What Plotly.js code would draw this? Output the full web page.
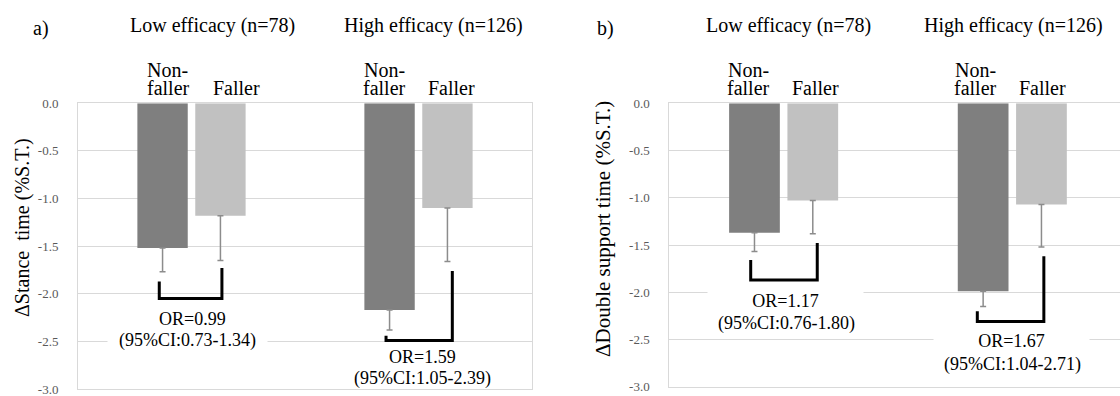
<!DOCTYPE html>
<html>
<head>
<meta charset="utf-8">
<script src="https://cdn.plot.ly/plotly-3.0.1.min.js"></script>
<style>html,body{margin:0;padding:0;background:#fff;}#chart{width:1120px;height:396px;}</style>
</head>
<body>
<div id="chart"></div>
<script>
// ---- data ----
const groups = ['Low efficacy (n=78)', 'High efficacy (n=126)'];
const groupIdx = [0, 1];
const stanceNonFaller = [-1.52, -2.17];
const stanceNonFallerSE = [0.25, 0.21];
const stanceFaller = [-1.18, -1.10];
const stanceFallerSE = [0.47, 0.56];
const dstNonFaller = [-1.37, -1.99];
const dstNonFallerSE = [0.20, 0.16];
const dstFaller = [-1.03, -1.07];
const dstFallerSE = [0.35, 0.45];
const orA = ['OR=0.99', 'OR=1.59'];
const ciA = ['(95%CI:0.73-1.34)', '(95%CI:1.05-2.39)'];
const orB = ['OR=1.17', 'OR=1.67'];
const ciB = ['(95%CI:0.76-1.80)', '(95%CI:1.04-2.71)'];
const yTicks = [0, -0.5, -1, -1.5, -2, -2.5, -3];
const yTickText = ['0.0', '-0.5', '-1.0', '-1.5', '-2.0', '-2.5', '-3.0'];

const DARK = '#7f7f7f', LIGHT = '#c1c1c1', ERR = '#8c8c8c', GRID = '#d9d9d9';
const FONT = '"Liberation Serif", "Times New Roman", Tinos, "DejaVu Serif", serif';

function bar(y, se, color, xa, ya) {
  return {
    type: 'bar', x: groupIdx, y: y, xaxis: xa, yaxis: ya,
    marker: {color: color, line: {width: 0}},
    error_y: {type: 'data', symmetric: false, array: y.map(() => 0), arrayminus: se,
              color: ERR, thickness: 1.5, width: 3},
    hoverinfo: 'skip'
  };
}

const data = [
  bar(stanceNonFaller, stanceNonFallerSE, DARK, 'x', 'y'),
  bar(stanceFaller, stanceFallerSE, LIGHT, 'x', 'y'),
  bar(dstNonFaller, dstNonFallerSE, DARK, 'x2', 'y2'),
  bar(dstFaller, dstFallerSE, LIGHT, 'x2', 'y2')
];

function yax(domain, mirror) {
  return {
    domain: domain, range: [-3, 0], tickvals: yTicks, ticktext: yTickText,
    showgrid: true, gridcolor: GRID, gridwidth: 1, zeroline: false,
    showline: true, linecolor: GRID, linewidth: 1, mirror: mirror,
    ticks: '', ticklabelstandoff: 16, ticklabeloverflow: 'allow',
    tickfont: {family: FONT, size: 13, color: '#595959'}, fixedrange: true
  };
}
function xax(domain, range, anchor) {
  return {
    domain: domain, range: range, anchor: anchor, showticklabels: false, ticks: '',
    showgrid: false, zeroline: false, showline: true, linecolor: GRID, linewidth: 1,
    mirror: true, fixedrange: true
  };
}

const W = 1120, H = 396;
const px = v => v / W, py = v => 1 - v / H;

// bracket geometry (layout decorations)
const brackets = [
  {xr: 'x', yr: 'y', lx: -0.142, ly: -1.87, rx: 0.134, ry: -1.73, by: -2.05},
  {xr: 'x', yr: 'y', lx: 0.857, ly: -2.44, rx: 1.149, ry: -1.76, by: -2.49},
  {xr: 'x2', yr: 'y2', lx: -0.144, ly: -1.66, rx: 0.147, ry: -1.48, by: -1.87},
  {xr: 'x2', yr: 'y2', lx: 0.847, ly: -2.20, rx: 1.138, ry: -1.62, by: -2.31}
];
const shapes = brackets.map(b => ({
  type: 'path', xref: b.xr, yref: b.yr,
  path: `M ${b.lx},${b.ly} L ${b.lx},${b.by} L ${b.rx},${b.by} L ${b.rx},${b.ry}`,
  line: {color: '#000', width: 3}
}));

function ann(text, x, y, size, extra) {
  return Object.assign({text: text, x: px(x), y: py(y), xref: 'paper', yref: 'paper',
    showarrow: false, font: {family: FONT, size: size, color: '#000'},
    xanchor: 'center', yanchor: 'middle'}, extra || {});
}
function boxed(text, x, y, bx, bw) {
  // text centred at x; white box centred at bx with width bw
  return ann(text, bx, y, 18, {width: bw, align: 'center', bgcolor: '#fff', borderpad: 3,
    xshift: 0});
}

const annotations = [
  ann('a)', 41, 28, 20),
  ann('b)', 605, 28, 20),
  ann(groups[0], 212, 25, 20),
  ann(groups[1], 433, 25, 20),
  ann(groups[0], 788, 25, 20),
  ann(groups[1], 1013, 25, 20),
  // header labels (two separate lines, tight spacing)
  ann('Non-', 167, 70, 20), ann('faller', 168, 88, 20), ann('Faller', 236, 88, 20),
  ann('Non-', 384, 70, 20), ann('faller', 384, 88, 20), ann('Faller', 451, 88, 20),
  ann('Non-', 748, 70, 20), ann('faller', 748, 88, 20), ann('Faller', 815, 88, 20),
  ann('Non-', 975, 70, 20), ann('faller', 975, 88, 20), ann('Faller', 1042, 88, 20),
  ann('\u0394Stance\u00a0 time (%S.T.)', 22, 228, 20, {textangle: -90}),
  ann('\u0394Double support time (%S.T.)', 603, 229, 21, {textangle: -90}),
  // odds ratios
  ann(orA[0], 192, 319, 18),
  boxed(ciA[0], 192, 340, 188, 153),
  ann(orA[1], 422, 357, 18),
  ann(ciA[1], 422, 378, 18),
  boxed(orB[0], 786, 301, 785, 149),
  ann(ciB[0], 786, 323, 18),
  boxed(orB[1], 1012, 341, 1011, 149),
  ann(ciB[1], 1012, 364, 18)
];

const layout = {
  width: W, height: H, margin: {l: 0, r: 0, t: 0, b: 0},
  paper_bgcolor: '#fff', plot_bgcolor: '#fff', showlegend: false,
  barmode: 'group', bargap: 0.49, bargroupgap: 0.13,
  font: {family: FONT},
  xaxis: xax([px(78), px(532)], [-0.5, 1.5], 'y'),
  yaxis: Object.assign(yax([py(389), py(103.3)], true), {anchor: 'x'}),
  xaxis2: xax([px(669.3), 1], [-0.5, 1.471], 'y2'),
  yaxis2: Object.assign(yax([py(386.7), py(103.3)], false), {anchor: 'x2'}),
  shapes: shapes, annotations: annotations
};

Plotly.newPlot('chart', data, layout, {displayModeBar: false, staticPlot: true});
</script>
</body>
</html>
